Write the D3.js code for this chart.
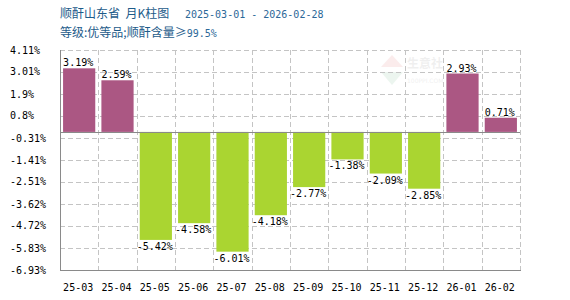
<!DOCTYPE html>
<html>
<head>
<meta charset="utf-8">
<script src="https://cdn.jsdelivr.net/npm/d3@7"></script>
<style>
  body { margin: 0; background: #fff; }
  svg { display: block; }
  .mono { font-family: "DejaVu Sans Mono", monospace; font-size: 10px; }
  .cjk { font-family: "Noto Sans CJK SC", sans-serif; font-size: 12px; }
</style>
</head>
<body>
<svg id="chart" width="570" height="300"></svg>
<script>
// chart data
var months = ["25-03","25-04","25-05","25-06","25-07","25-08","25-09","25-10","25-11","25-12","26-01","26-02"];
var changes = [3.19, 2.59, -5.42, -4.58, -6.01, -4.18, -2.77, -1.38, -2.09, -2.85, 2.93, 0.71];
var yTicks = [4.11, 3.01, 1.9, 0.8, -0.31, -1.41, -2.51, -3.62, -4.72, -5.83, -6.93];
var titleText = "顺酐山东省  月K柱图";
var dateText = "2025-03-01 - 2026-02-28";
var subTitle = "等级:优等品;顺酐含量≥";
var subValue = "99.5%";

var svg = d3.select("#chart");
var plot = {left: 60, right: 520, top: 50, bottom: 270};

var x = d3.scaleBand()
    .domain(months)
    .range([plot.left, plot.right])
    .paddingInner(0.16)
    .paddingOuter(0.08);

var y = d3.scaleLinear()
    .domain([d3.min(yTicks), d3.max(yTicks)])
    .range([plot.bottom, plot.top]);

var step = x.step();

// title
svg.append("text")
  .attr("class", "cjk")
  .attr("x", 60).attr("y", 18)
  .attr("fill", "#1d5b8a")
  .style("white-space", "pre")
  .text(titleText);
svg.append("text")
  .attr("class", "mono")
  .attr("font-size", "11px")
  .attr("x", 185).attr("y", 18)
  .attr("fill", "#2c6898")
  .text(dateText);

var t2 = svg.append("text")
  .attr("x", 60).attr("y", 37)
  .attr("fill", "#1d5b8a");
t2.append("tspan").attr("class", "cjk").text(subTitle);
t2.append("tspan").attr("class", "mono").attr("font-size", "11px").attr("fill", "#2c6898").text(subValue);

// watermark (faint)
var wm = svg.append("g").attr("opacity", 0.08);
wm.append("path").attr("d", "M392,55 L403,67 L381,67 Z").attr("fill", "#d02020");
wm.append("path").attr("d", "M381,72 L403,72 L392,85 Z").attr("fill", "#209040");
wm.append("text").attr("class", "cjk").attr("x", 407).attr("y", 68)
  .attr("font-size", "12px").attr("font-weight", "bold").attr("fill", "#444").text("生意社");
wm.append("text").attr("x", 407).attr("y", 83)
  .attr("font-family", "DejaVu Sans").attr("font-size", "6px").attr("fill", "#444").text("100PPI.COM");

// horizontal grid
svg.append("g").selectAll("line")
  .data(yTicks)
  .enter().append("line")
    .attr("x1", plot.left).attr("x2", plot.right)
    .attr("y1", function(d){ return Math.round(y(d)) + 0.5; })
    .attr("y2", function(d){ return Math.round(y(d)) + 0.5; })
    .attr("stroke", "#c4c4c4")
    .attr("stroke-dasharray", "5,3");

// vertical grid at band edges
svg.append("g").selectAll("line")
  .data(months)
  .enter().append("line")
    .attr("x1", function(d){ return Math.round(x(d) - step * 0.08 + step) + 0.5; })
    .attr("x2", function(d){ return Math.round(x(d) - step * 0.08 + step) + 0.5; })
    .attr("y1", plot.top).attr("y2", plot.bottom)
    .attr("stroke", "#c4c4c4")
    .attr("stroke-dasharray", "5,3");

// bars
svg.append("g").selectAll("rect")
  .data(changes)
  .enter().append("rect")
    .attr("x", function(d, i){ return x(months[i]); })
    .attr("width", x.bandwidth())
    .attr("y", function(d){ return y(Math.max(0, d)); })
    .attr("height", function(d){ return Math.abs(y(d) - y(0)); })
    .attr("fill", function(d){ return d >= 0 ? "#ab5783" : "#aad531"; });

// zero line
svg.append("line")
  .attr("x1", plot.left).attr("x2", plot.right)
  .attr("y1", Math.round(y(0)) + 0.5).attr("y2", Math.round(y(0)) + 0.5)
  .attr("stroke", "#8a8a8a");

// axes lines
svg.append("line")
  .attr("x1", plot.left + 0.5).attr("x2", plot.left + 0.5)
  .attr("y1", plot.top).attr("y2", plot.bottom)
  .attr("stroke", "#8a8a8a");
svg.append("line")
  .attr("x1", plot.left).attr("x2", plot.right + 1)
  .attr("y1", plot.bottom + 0.5).attr("y2", plot.bottom + 0.5)
  .attr("stroke", "#8a8a8a");

// value labels
svg.append("g").selectAll("text")
  .data(changes)
  .enter().append("text")
    .attr("class", "mono")
    .attr("text-anchor", "middle")
    .attr("x", function(d, i){ return x(months[i]) + x.bandwidth() / 2 - 1; })
    .attr("y", function(d){ return d >= 0 ? y(d) - 2 : y(d) + 10; })
    .attr("fill", "#000")
    .text(function(d){ return d + "%"; });

// y tick labels
svg.append("g").selectAll("text")
  .data(yTicks)
  .enter().append("text")
    .attr("class", "mono")
    .attr("x", 10)
    .attr("y", function(d){ return y(d) + 3.5; })
    .attr("fill", "#000")
    .text(function(d){ return d + "%"; });

// x labels
svg.append("g").selectAll("text")
  .data(months)
  .enter().append("text")
    .attr("class", "mono")
    .attr("text-anchor", "middle")
    .attr("x", function(d){ return x(d) + x.bandwidth() / 2 - 1; })
    .attr("y", 291)
    .attr("fill", "#000")
    .text(function(d){ return d; });
</script>
</body>
</html>
